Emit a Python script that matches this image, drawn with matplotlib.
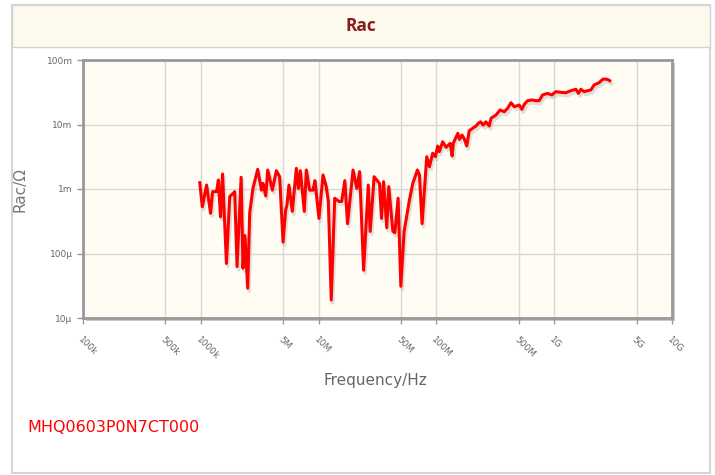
import matplotlib.pyplot as plt
from matplotlib.patches import Rectangle

# frequency in MHz, Rac in mOhm
freq_mhz = [
    0.98, 1.03, 1.12, 1.21, 1.26, 1.36, 1.41, 1.47, 1.53, 1.65,
    1.76, 1.94, 2.03, 2.20, 2.28, 2.37, 2.50, 2.60, 2.77, 3.04,
    3.27, 3.37, 3.56, 3.70, 4.05, 4.38, 4.67, 4.99, 5.25, 5.39,
    5.60, 5.98, 6.47, 6.73, 7.00, 7.56, 7.87, 8.39, 8.96, 9.31,
    10.07, 10.9, 11.6, 12.1, 12.8, 13.7, 14.9, 15.7, 16.7, 17.6,
    19.6, 21.1, 22.3, 24.1, 26.4, 27.4, 29.6, 32.9, 34.2, 35.6,
    37.9, 39.4, 42.7, 44.4, 47.3, 49.9, 53.2, 59.0, 63.0, 69.0,
    71.8, 75.6, 82.8, 87.3, 93.0, 98.1, 102.6, 106, 113, 121,
    131, 136, 139, 152, 157, 165, 173, 181, 190, 203,
    217, 226, 237, 250, 263, 281, 291, 320, 347, 377,
    402, 430, 458, 505, 532, 557, 594, 655, 700, 746,
    796, 878, 955, 1033, 1140, 1256, 1385, 1527, 1607, 1683,
    1795, 1916, 2047, 2183, 2405, 2600, 2830, 2963,
]
rac_mohm = [
    1.25, 0.53, 1.15, 0.42, 0.91, 0.91, 1.38, 0.37, 1.71, 0.070,
    0.76, 0.91, 0.0625, 1.52, 0.059, 0.19, 0.029, 0.42, 1.02, 2.02,
    0.96, 1.22, 0.78, 1.97, 0.96, 1.92, 1.55, 0.15, 0.47, 0.57,
    1.15, 0.45, 2.09, 1.02, 1.92, 0.45, 1.97, 0.96, 0.96, 1.35,
    0.35, 1.65, 1.09, 0.64, 0.019, 0.72, 0.64, 0.64, 1.35, 0.29,
    1.97, 1.02, 1.86, 0.055, 1.15, 0.22, 1.55, 1.22, 0.35, 1.30,
    0.25, 1.09, 0.22, 0.21, 0.72, 0.031, 0.22, 0.67, 1.22, 1.97,
    1.65, 0.29, 3.17, 2.22, 3.58, 3.17, 4.64, 3.79, 5.41, 4.43,
    5.11, 3.25, 5.11, 7.3, 5.89, 6.87, 5.89, 4.64, 8.0, 8.73,
    9.48, 10.4, 11.0, 9.8, 11.0, 9.48, 12.5, 14.0, 16.8, 15.8,
    17.8, 21.8, 18.9, 20.0, 17.2, 20.5, 23.4, 24.0, 23.4, 23.4,
    28.7, 30.4, 28.7, 32.3, 31.5, 31.1, 33.4, 35.2, 30.4, 35.2,
    32.3, 33.4, 34.3, 41.0, 44.5, 50.7, 50.1, 47.7,
]

x_ticks = [1e5, 5e5, 1e6, 5e6, 1e7, 5e7, 1e8, 5e8, 1e9, 5e9, 1e10]
x_labels = ["100k", "500k", "1000k", "5M", "10M", "50M", "100M", "500M", "1G", "5G", "10G"]
y_ticks = [1e-5, 1e-4, 1e-3, 1e-2, 1e-1]
y_labels = ["10\u00b5", "100\u00b5", "1m", "10m", "100m"]

W, H = 715, 475
fig = plt.figure(figsize=(W / 100, H / 100), dpi=100)

# outer panel and title band
fig.patches.append(Rectangle((12 / W, 1 - 473 / H), 698 / W, 468 / H, transform=fig.transFigure,
                             facecolor="white", edgecolor="#d4d4d4", lw=1.5, zorder=0))
fig.patches.append(Rectangle((12 / W, 1 - 47 / H), 698 / W, 42 / H, transform=fig.transFigure,
                             facecolor="#fdf9ec", edgecolor="#d4d4d4", lw=1.0, zorder=0))
# drop shadow of plot frame
fig.patches.append(Rectangle((86 / W, 1 - 321 / H), 589 / W, 258 / H, transform=fig.transFigure,
                             facecolor="#c8c8c8", edgecolor="none", zorder=0.5))
fig.text(361 / W, 1 - 26 / H, "Rac", ha="center", va="center", fontsize=12.5,
         fontweight="bold", color="#8b1c1c", family="Open Sans")

ax = fig.add_axes([83 / W, 1 - 318 / H, 589 / W, 258 / H])
ax.set_zorder(2)
ax.set_facecolor("#fffcf3")

freq_hz = [f * 1e6 for f in freq_mhz]
rac_ohm = [r * 1e-3 for r in rac_mohm]
ax.plot([f * 1.03 for f in freq_hz], [r * 0.9 for r in rac_ohm], color="#999999", lw=2.5, alpha=0.3)
ax.plot(freq_hz, rac_ohm, color="#ff0000", lw=2.2)

ax.set_xscale("log")
ax.set_yscale("log")
ax.set_xlim(1e5, 1e10)
ax.set_ylim(1e-5, 1e-1)
ax.set_xticks(x_ticks)
ax.set_xticklabels(x_labels, rotation=-45, ha="left", va="top", rotation_mode="anchor")
ax.set_yticks(y_ticks)
ax.set_yticklabels(y_labels)
ax.minorticks_off()
ax.tick_params(axis="both", labelsize=6.5, labelcolor="#666666", color="#999999",
               length=4, width=1)
ax.tick_params(axis="x", pad=8)
ax.grid(True, color="#d8d8d8", lw=1)
for s in ax.spines.values():
    s.set_color("#999999")
    s.set_linewidth(2)

fig.text(20 / W, 1 - 190 / H, "Rac/\u03a9", ha="center", va="center", rotation=90,
         fontsize=11, color="#777777")
fig.text(375 / W, 1 - 380 / H, "Frequency/Hz", ha="center", va="center", fontsize=11, color="#666666")
fig.text(27 / W, 1 - 428 / H, "MHQ0603P0N7CT000", ha="left", va="center", fontsize=11.5, color="#ff0000")

fig.savefig("out.png", dpi=100)
